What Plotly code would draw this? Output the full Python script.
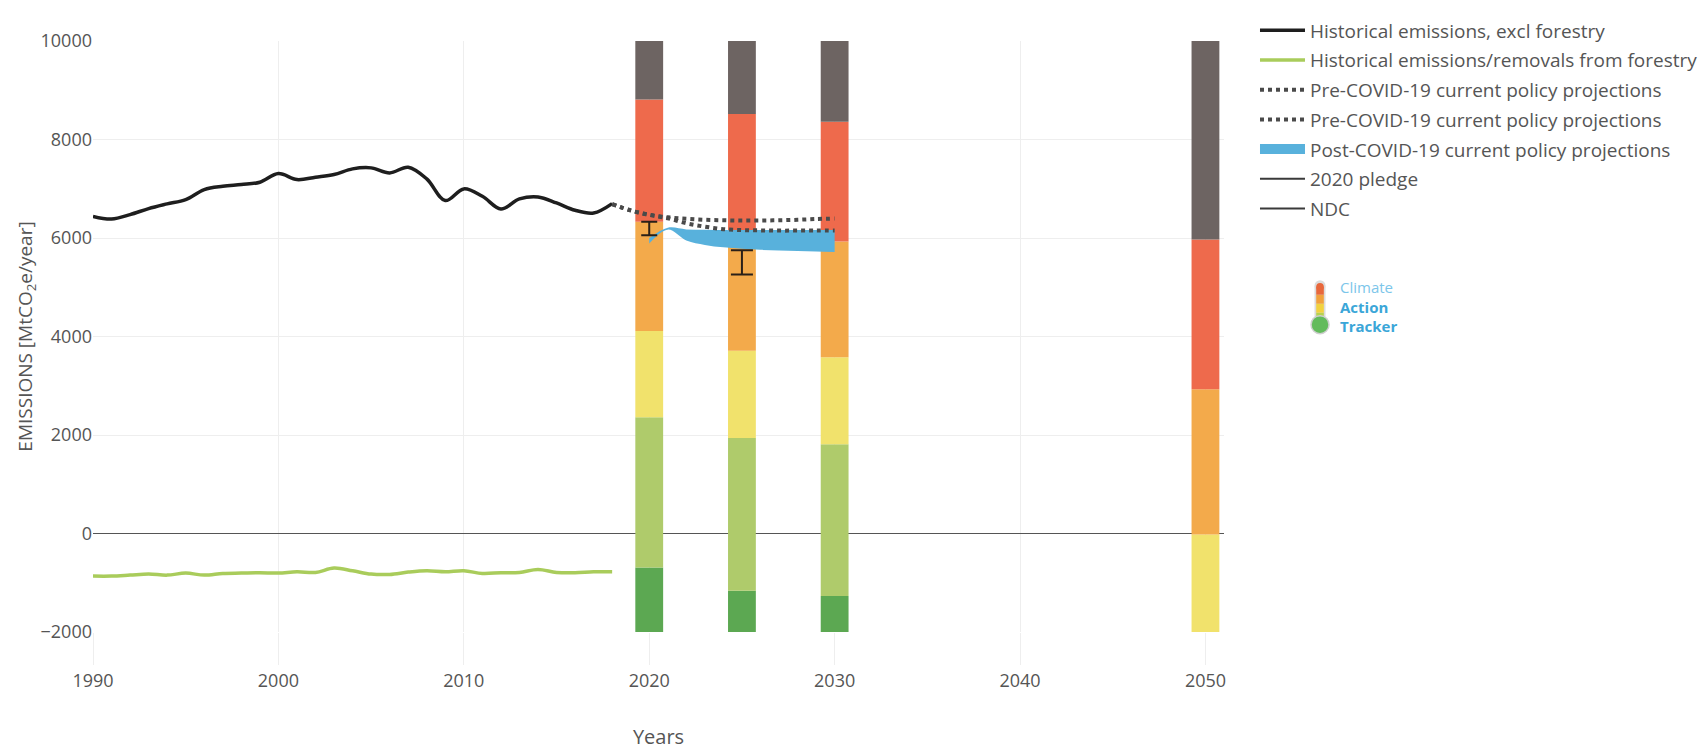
import plotly.graph_objects as go

# ---------------- data ----------------
hist_years = list(range(1990, 2019))
hist_emissions = [6440, 6386, 6475, 6597, 6692, 6780, 6983, 7050, 7085, 7132,
                  7308, 7186, 7234, 7288, 7403, 7424, 7322, 7437, 7200, 6760,
                  6997, 6847, 6590, 6793, 6834, 6712, 6563, 6508, 6698]
forestry = [-865, -865, -845, -824, -845, -804, -845, -811, -804, -797,
            -804, -777, -790, -703, -757, -824, -831, -784, -757, -777,
            -757, -811, -797, -790, -730, -790, -797, -777, -777]

proj_years = list(range(2018, 2031))
pre_covid_high = [6690, 6560, 6470, 6420, 6390, 6370, 6360, 6355, 6355, 6360, 6370, 6385, 6395]
pre_covid_low = [6690, 6560, 6470, 6400, 6300, 6230, 6180, 6160, 6155, 6150, 6150, 6150, 6150]

post_years = list(range(2020, 2031))
post_covid_upper = [6000, 6210, 6175, 6165, 6160, 6160, 6160, 6160, 6160, 6160, 6160]
post_covid_lower = [5890, 6170, 5950, 5860, 5810, 5780, 5760, 5745, 5735, 5725, 5715]

pledge_year = [2020]
pledge_low = [6055]
pledge_high = [6330]
ndc_year = [2025]
ndc_low = [5257]
ndc_high = [5750]

# CAT rating bars: upper boundary of each rating level (None = not present)
bar_years = [2020, 2025, 2030, 2050]
bar_floor = -2000
bar_ceiling = 10000
rating_levels = ["Role model", "1.5°C Paris Agreement compatible", "2°C compatible",
                 "Insufficient", "Highly insufficient", "Critically insufficient"]
rating_tops = [
    [-690, -1160, -1270, None],     # Role model
    [2360, 1940, 1810, None],       # 1.5°C compatible
    [4110, 3710, 3580, -20],        # 2°C compatible
    [6330, 5900, 5930, 2930],       # Insufficient
    [8810, 8520, 8360, 5970],       # Highly insufficient
    [bar_ceiling] * 4,              # Critically insufficient
]
rating_colors = ["#5ca852", "#afcb6b", "#f1e26c", "#f3aa4b", "#ee6a4c", "#6d6462"]

x_ticks = [1990, 2000, 2010, 2020, 2030, 2040, 2050]
y_ticks = [-2000, 0, 2000, 4000, 6000, 8000, 10000]

FONT = "Open Sans"
TXT = "#555555"

fig = go.Figure()

# stacked rating bars
prev = [bar_floor] * len(bar_years)
for name, tops, col in zip(rating_levels, rating_tops, rating_colors):
    t = [bar_floor if v is None else v for v in tops]
    heights = [tt - pp for tt, pp in zip(t, prev)]
    fig.add_trace(go.Bar(x=bar_years, y=heights, base=prev, width=1.5, name=name,
                         marker=dict(color=col, line=dict(width=0)), showlegend=False))
    prev = t

# historical lines
fig.add_trace(go.Scatter(x=hist_years, y=hist_emissions, mode="lines",
                         name="Historical emissions, excl forestry",
                         line=dict(color="#1e1e1e", width=3.5, shape="spline"),
                         legendgroup="g1", legendrank=1))
fig.add_trace(go.Scatter(x=hist_years, y=forestry, mode="lines",
                         name="Historical emissions/removals from forestry",
                         line=dict(color="#a9cc5b", width=3.5, shape="spline"),
                         legendgroup="g2", legendrank=2))

# post-COVID band
fig.add_trace(go.Scatter(x=post_years, y=post_covid_lower, mode="lines",
                         line=dict(width=0, shape="spline", color="#58b1dc"),
                         showlegend=False, legendgroup="g5", hoverinfo="skip"))
fig.add_trace(go.Scatter(x=post_years, y=post_covid_upper, mode="lines", fill="tonexty",
                         fillcolor="#58b1dc", line=dict(width=0, shape="spline", color="#58b1dc"),
                         name="Post-COVID-19 current policy projections",
                         showlegend=False, legendgroup="g5"))
fig.add_trace(go.Scatter(x=[None], y=[None], mode="lines",
                         name="Post-COVID-19 current policy projections",
                         line=dict(color="#58b1dc", width=10),
                         legendgroup="g5", legendrank=5))

# pre-COVID dotted projections
fig.add_trace(go.Scatter(x=proj_years, y=pre_covid_high, mode="lines",
                         name="Pre-COVID-19 current policy projections",
                         line=dict(color="#4a4a4a", width=4, dash="dot", shape="spline"),
                         legendgroup="g3", legendrank=3))
fig.add_trace(go.Scatter(x=proj_years, y=pre_covid_low, mode="lines",
                         name="Pre-COVID-19 current policy projections",
                         line=dict(color="#4a4a4a", width=4, dash="dot", shape="spline"),
                         legendgroup="g4", legendrank=4))

# pledge / NDC ranges
def range_trace(xs, lo, hi, name, grp, rank, capw):
    mid = [(a + b) / 2 for a, b in zip(lo, hi)]
    return go.Scatter(x=xs, y=mid, mode="lines", name=name,
                      line=dict(color="#3a3a3a", width=2),
                      error_y=dict(type="data", symmetric=False,
                                   array=[b - m for b, m in zip(hi, mid)],
                                   arrayminus=[m - a for a, m in zip(lo, mid)],
                                   color="#2a2018", thickness=2, width=capw),
                      legendgroup=grp, legendrank=rank)

fig.add_trace(range_trace(pledge_year, pledge_low, pledge_high, "2020 pledge", "g6", 6, 8))
fig.add_trace(range_trace(ndc_year, ndc_low, ndc_high, "NDC", "g7", 7, 11))

# ---------------- logo (Climate Action Tracker) ----------------
bx, by = 1.0849, 0.520
therm = [("#5cb85c", -8, 3), ("#b9d24f", 3, 12), ("#f2d23e", 12, 21), ("#f2a13c", 21, 30), ("#e8683c", 30, 38)]
shapes = []
pix = dict(xref="paper", yref="paper", xsizemode="pixel", ysizemode="pixel",
           xanchor=bx, yanchor=by, layer="above")
shapes.append(dict(type="rect", x0=-5.5, x1=5.5, y0=0, y1=39,
                   fillcolor="#dcdcdc", line=dict(width=0), **pix))
shapes.append(dict(type="circle", x0=-5.5, x1=5.5, y0=33.5, y1=44.5,
                   fillcolor="#dcdcdc", line=dict(width=0), **pix))
for col, y0, y1 in therm:
    shapes.append(dict(type="rect", x0=-3.8, x1=3.8, y0=y0, y1=y1,
                       fillcolor=col, line=dict(width=0), **pix))
shapes.append(dict(type="circle", x0=-3.8, x1=3.8, y0=34.2, y1=41.8,
                   fillcolor="#e8683c", line=dict(width=0), **pix))
shapes.append(dict(type="circle", x0=-9, x1=9, y0=-9, y1=9,
                   fillcolor="#63bb5c", line=dict(color="#cfcfcf", width=1.5), **pix))

annos = [
    dict(text="<span style='color:#7cc6ea'>Climate</span><br>"
              "<b><span style='color:#3ba6d8'>Action</span></b><br>"
              "<b><span style='color:#3ba6d8'>Tracker</span></b>",
         x=1.1008, y=0.551, xref="paper", yref="paper", xanchor="left", yanchor="middle",
         align="left", showarrow=False, font=dict(size=15, family=FONT, color="#3ba6d8")),
]

fig.update_layout(
    width=1706, height=750,
    margin=dict(l=93, r=482, t=41, b=118, pad=0, autoexpand=False),
    paper_bgcolor="white", plot_bgcolor="white",
    font=dict(family=FONT, color=TXT, size=18),
    barmode="overlay",
    showlegend=True,
    legend=dict(x=1.0274, y=1.05, xanchor="left", yanchor="top",
                font=dict(size=19, color=TXT, family=FONT),
                itemwidth=45, tracegroupgap=2, traceorder="grouped",
                bgcolor="rgba(0,0,0,0)"),
    xaxis=dict(range=[1990, 2051], tickvals=x_ticks, showgrid=True, gridcolor="#eeeeee",
               ticks="outside", ticklen=32, tickcolor="#eeeeee", zeroline=False, showline=False,
               automargin=False,
               tickfont=dict(size=18, color=TXT),
               title=dict(text="Years", font=dict(size=20, color=TXT), standoff=43)),
    yaxis=dict(range=[-2000, 10000], tickvals=y_ticks, tickformat="d", showgrid=True,
               gridcolor="#eeeeee", automargin=False,
               zeroline=True, zerolinecolor="#555555", zerolinewidth=1, showline=False,
               tickfont=dict(size=18, color=TXT),
               title=dict(text="EMISSIONS [MtCO<sub>2</sub>e/year]", font=dict(size=19, color=TXT),
                          standoff=2)),
    shapes=shapes, annotations=annos,
)

fig.write_html("out.html")
